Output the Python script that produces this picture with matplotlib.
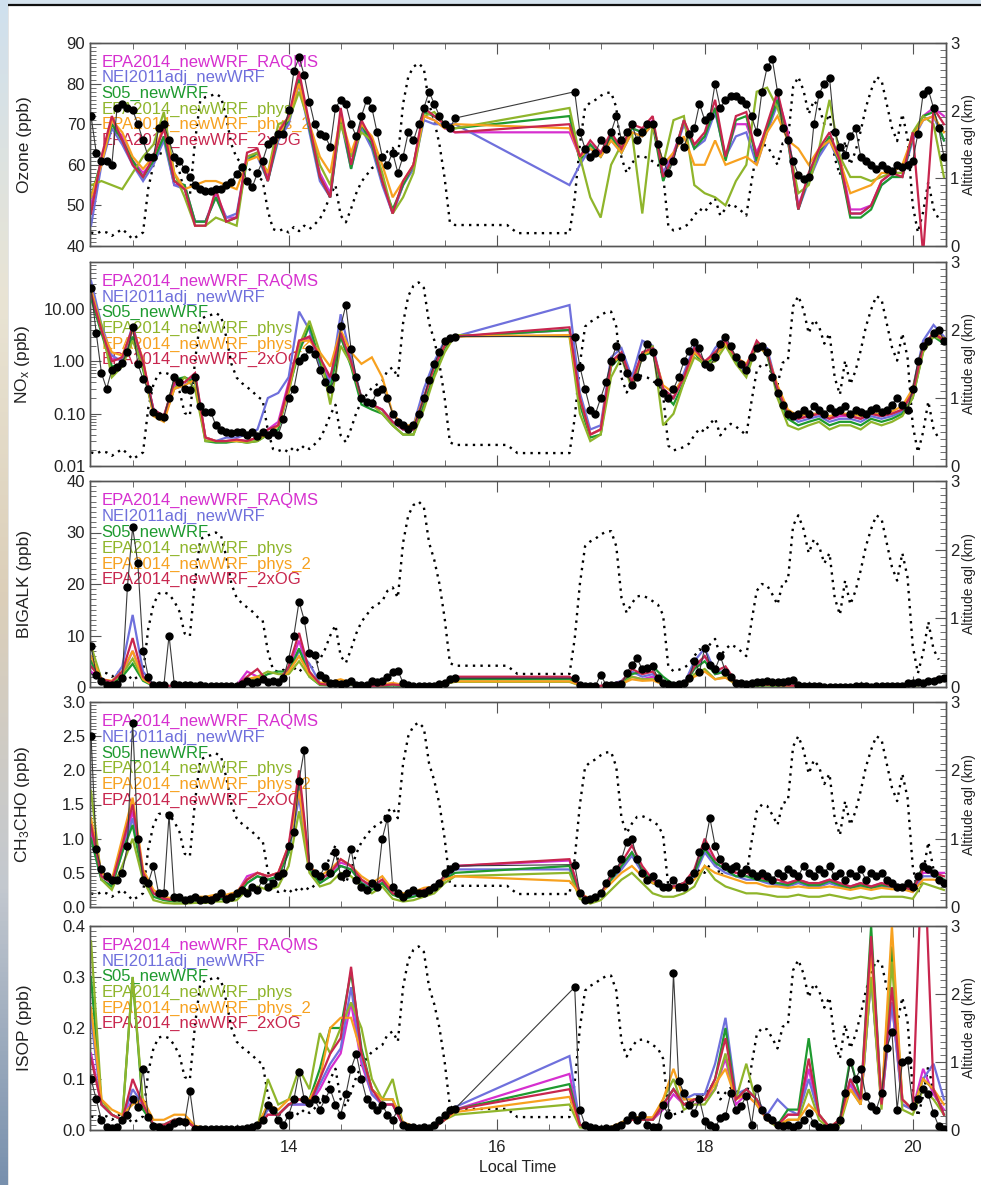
import numpy as np
import matplotlib
matplotlib.use("Agg")
import matplotlib.pyplot as plt
from matplotlib.ticker import MultipleLocator, FixedLocator, LogLocator, NullFormatter, FixedFormatter
from matplotlib.colors import LinearSegmentedColormap
from matplotlib.patches import Rectangle

plt.rcParams['font.family'] = ['Liberation Sans', 'DejaVu Sans']
plt.rcParams['mathtext.fontset'] = 'custom'
plt.rcParams['mathtext.rm'] = 'Liberation Sans'
plt.rcParams['mathtext.it'] = 'Liberation Sans:italic'

# ---------------------------------------------------------------- time bases (local hours)
ALT_START, ALT_STEP = 12.10, 0.05
OBS_A_START, OBS_B_START, OBS_STEP = 12.10, 16.75, 0.05
MOD_A_START, MOD_B_START, MOD_STEP = 12.1, 16.7, 0.1

model_names = ["EPA2014_newWRF_RAQMS", "NEI2011adj_newWRF", "S05_newWRF",
               "EPA2014_newWRF_phys", "EPA2014_newWRF_phys_2", "EPA2014_newWRF_2xOG"]
model_colors = ["#d62fcf", "#6f70dc", "#1e9a2f", "#8fb52b", "#f7a11f", "#c8264e"]

# aircraft altitude above ground (km)
altitude_km = [
    0.20, 0.18, 0.22, 0.20, 0.15, 0.20, 0.25, 0.18, 0.10, 0.15, 0.20, 0.85, 1.20, 1.36, 1.38, 1.35,
    1.25, 1.10, 0.78, 0.74, 1.55, 2.15, 2.20, 2.22, 2.25, 2.20, 1.90, 1.50, 1.30, 1.22, 1.16, 1.10,
    1.02, 0.97, 0.52, 0.25, 0.22, 0.25, 0.20, 0.28, 0.22, 0.30, 0.25, 0.32, 0.40, 0.55, 0.75, 0.90,
    0.45, 0.35, 0.55, 0.78, 0.95, 1.05, 1.15, 1.20, 1.25, 1.40, 1.45, 1.30, 2.10, 2.50, 2.65, 2.70,
    2.62, 2.10, 1.85, 1.50, 1.00, 0.35, 0.31, 0.31, 0.31, 0.31, 0.31, 0.31, 0.31, 0.31, 0.31, 0.31,
    0.31, 0.25, 0.19, 0.19, 0.19, 0.19, 0.19, 0.19, 0.19, 0.19, 0.19, 0.19, 0.19, 0.70, 1.50, 2.05,
    2.12, 2.16, 2.22, 2.26, 2.27, 2.05, 1.30, 1.08, 1.22, 1.32, 1.33, 1.30, 1.25, 1.20, 1.05, 0.30,
    0.23, 0.25, 0.28, 0.33, 0.45, 0.55, 0.50, 0.62, 0.70, 0.45, 0.55, 0.62, 0.58, 0.52, 0.45, 0.95,
    1.40, 1.50, 1.48, 1.35, 1.20, 1.52, 1.55, 2.35, 2.50, 2.30, 1.95, 2.15, 2.05, 1.80, 1.95, 1.30,
    1.05, 1.55, 1.20, 1.40, 1.70, 2.05, 2.30, 2.50, 2.45, 2.10, 1.75, 1.55, 1.95, 1.60, 0.60, 0.20,
    0.50, 0.95, 0.55, 0.40]

# ---------------------------------------------------------------- Ozone (ppb)
o3_obs_a = [72, 63, 61, 61, 60, 74, 75, 74, 73.5, 70, 66, 62, 62, 69, 70, 66, 62, 61, 59, 57, 55,
            54, 53.6, 53.6, 54, 54, 55, 55.7, 57.8, 59.5, 56, 54.5, 58, 61, 65, 66, 67.7, 67.7, 73.5,
            83, 86.5, 82, 75.5, 70, 67.5, 67, 64.5, 74, 76, 75, 70, 67, 72, 76, 74, 68, 62, 60, 63,
            58, 62, 68, 66, 70, 74, 78, 75, 72, 70, 69, 71.5]
o3_obs_b = [78, 68, 64, 62, 63, 66, 64, 68, 72, 66, 68, 70, 66, 68, 70, 70, 65, 61, 58, 61, 66,
            64.5, 67.7, 69, 75, 71, 72, 80, 74, 76, 77, 77, 76, 75, 72, 68, 78, 84, 86, 78, 69, 66,
            61, 57.5, 56.5, 57, 70, 77.5, 80, 81.5, 68, 64.5, 62.5, 67, 69, 62, 61, 60, 59, 60, 59,
            58.5, 60, 59.5, 60, 61, 67.7, 77.5, 78.5, 74, 69, 62]
o3_mod_a = [
    [50, 61, 70, 67, 61, 58, 61, 67, 55, 55, 46, 46, 53, 47, 47, 62, 63, 57, 67, 71, 82, 69, 58, 53, 72, 60, 70, 65, 56, 48, 55, 60, 72, 71, 69, 68],
    [45, 60, 69, 65, 60, 56, 60, 66, 55, 54, 46, 46, 52, 47, 48, 62, 62, 56, 66, 70, 80, 68, 56, 52, 71, 59, 69, 64, 55, 48, 55, 59, 71, 70, 70, 70],
    [52, 61, 70, 66, 61, 57, 61, 67, 56, 55, 46, 46, 52, 46, 47, 61, 63, 56, 67, 71, 81, 69, 57, 52, 72, 59, 70, 65, 56, 49, 55, 60, 73, 72, 70, 69],
    [55, 56, 55, 54, 58, 62, 65, 73, 58, 52, 45, 45, 47, 46, 45, 62, 63, 58, 70, 71, 78, 70, 60, 55, 70, 62, 68, 66, 58, 48, 52, 58, 72, 73, 70, 69],
    [52, 60, 71, 68, 62, 59, 62, 70, 58, 54, 55, 56, 56, 55, 54, 61, 62, 58, 67, 72, 80, 70, 62, 58, 72, 63, 70, 67, 60, 52, 56, 60, 72, 71, 69, 70],
    [48, 62, 72, 66, 60, 57, 62, 69, 56, 54, 45, 45, 54, 46, 47, 63, 64, 56, 68, 72, 83, 70, 57, 52, 74, 60, 71, 66, 56, 48, 56, 60, 74, 72, 70, 68],
]
o3_mod_b = [
    [68, 62, 65, 63, 67, 64, 69, 68, 71, 58, 63, 70, 65, 67, 74, 62, 70, 70, 63, 69, 77, 68, 50, 57, 63, 66, 62, 49, 49, 50, 56, 58, 58, 67, 72, 74, 72],
    [55, 60, 64, 62, 66, 63, 68, 67, 70, 58, 62, 70, 64, 66, 73, 62, 67, 68, 60, 68, 75, 66, 49, 56, 62, 66, 60, 48, 48, 50, 55, 57, 57, 66, 71, 72, 66],
    [72, 61, 65, 62, 67, 63, 69, 68, 70, 56, 62, 71, 64, 67, 74, 61, 71, 72, 61, 69, 76, 66, 49, 57, 63, 67, 60, 47, 47, 49, 55, 57, 57, 67, 72, 73, 66],
    [74, 62, 52, 47, 60, 65, 68, 48, 70, 60, 71, 72, 55, 53, 52, 50, 56, 60, 78, 79, 74, 66, 53, 55, 64, 76, 62, 57, 57, 56, 57, 58, 58, 68, 72, 70, 57],
    [69, 62, 64, 62, 66, 63, 68, 67, 70, 60, 63, 67, 60, 60, 66, 60, 61, 62, 60, 68, 72, 66, 64, 60, 64, 66, 61, 53, 54, 55, 58, 58, 60, 67, 71, 72, 68],
    [70, 62, 66, 63, 68, 64, 70, 69, 72, 57, 62, 71, 65, 68, 76, 62, 72, 73, 62, 70, 78, 67, 49, 58, 64, 68, 61, 48, 48, 50, 56, 58, 57, 68, 38, 74, 70],
]

# ---------------------------------------------------------------- NOx (ppb)
nox_obs_a = [25, 3.5, 0.6, 0.3, 0.7, 0.8, 0.95, 1.5, 4.5, 0.9, 0.46, 0.3, 0.11, 0.09, 0.085, 0.2,
             0.5, 0.4, 0.3, 0.29, 0.5, 0.14, 0.11, 0.11, 0.06, 0.048, 0.045, 0.042, 0.045, 0.045,
             0.04, 0.045, 0.038, 0.045, 0.04, 0.045, 0.04, 0.08, 0.2, 0.3, 1.0, 1.2, 1.7, 1.4, 0.7,
             0.4, 0.3, 0.5, 4.7, 12, 1.7, 0.5, 0.2, 0.17, 0.16, 0.26, 0.3, 0.2, 0.1, 0.07, 0.06,
             0.05, 0.06, 0.1, 0.2, 0.45, 0.9, 1.5, 2.5, 2.8, 3.0]
nox_obs_b = [3.0, 0.8, 0.3, 0.12, 0.1, 0.2, 0.4, 1.0, 2.0, 1.2, 0.6, 0.35, 0.5, 1.2, 2.2, 1.5, 0.4,
             0.25, 0.2, 0.3, 0.5, 1.0, 1.6, 2.4, 1.8, 0.9, 0.8, 1.2, 2.2, 3.0, 2.0, 1.2, 0.9, 0.7,
             1.2, 1.8, 2.0, 1.5, 0.5, 0.25, 0.15, 0.1, 0.09, 0.1, 0.12, 0.1, 0.14, 0.12, 0.1, 0.13,
             0.11, 0.12, 0.14, 0.1, 0.12, 0.11, 0.1, 0.12, 0.13, 0.11, 0.12, 0.15, 0.2, 0.15, 0.12,
             0.3, 1.0, 2.0, 2.5, 3.5, 4.0, 2.5]
nox_mod_a = [
    [18, 4, 1.1, 1.1, 4.0, 0.9, 0.12, 0.09, 0.35, 0.4, 0.55, 0.035, 0.03, 0.03, 0.032, 0.03, 0.035, 0.05, 0.07, 0.4, 2.0, 3.0, 1.0, 0.45, 3.0, 0.9, 0.2, 0.15, 0.12, 0.07, 0.05, 0.05, 0.2, 0.9, 2.0, 3.0],
    [35, 5, 1.3, 1.0, 5.0, 0.9, 0.12, 0.08, 0.3, 0.35, 0.5, 0.035, 0.03, 0.035, 0.035, 0.04, 0.05, 0.2, 0.25, 0.5, 9.0, 4.0, 0.8, 0.4, 8.0, 1.2, 0.2, 0.14, 0.12, 0.07, 0.05, 0.06, 0.3, 1.0, 2.5, 3.0],
    [16, 3.5, 0.8, 0.9, 3.0, 0.7, 0.1, 0.08, 0.45, 0.5, 0.4, 0.03, 0.028, 0.028, 0.03, 0.028, 0.03, 0.04, 0.05, 0.3, 1.5, 5.0, 1.0, 0.3, 3.0, 0.8, 0.15, 0.12, 0.1, 0.06, 0.04, 0.04, 0.15, 0.6, 1.8, 3.0],
    [22, 5, 0.5, 0.8, 2.5, 0.8, 0.1, 0.08, 0.3, 0.5, 0.3, 0.03, 0.03, 0.03, 0.03, 0.028, 0.03, 0.04, 0.06, 0.25, 2.0, 6.0, 1.5, 0.15, 2.0, 0.9, 0.2, 0.15, 0.1, 0.06, 0.04, 0.04, 0.12, 0.5, 1.5, 3.2],
    [25, 4, 1.5, 1.3, 4.0, 1.1, 0.09, 0.07, 0.3, 0.35, 0.45, 0.035, 0.03, 0.03, 0.03, 0.03, 0.035, 0.04, 0.06, 0.3, 2.5, 2.5, 1.5, 0.8, 4.0, 1.5, 0.9, 1.2, 0.5, 0.1, 0.06, 0.06, 0.2, 0.8, 2.0, 3.0],
    [20, 4, 1.0, 1.2, 4.5, 1.0, 0.12, 0.09, 0.4, 0.4, 0.6, 0.035, 0.03, 0.03, 0.032, 0.03, 0.035, 0.05, 0.06, 0.35, 2.5, 3.0, 1.2, 0.5, 3.5, 1.0, 0.2, 0.15, 0.12, 0.07, 0.05, 0.05, 0.2, 0.8, 2.0, 3.0],
]
nox_mod_b = [
    [4.0, 0.2, 0.04, 0.05, 0.9, 1.4, 0.4, 1.4, 1.7, 0.3, 0.2, 0.5, 1.7, 1.0, 1.4, 2.4, 1.1, 0.8, 2.3, 1.4, 0.3, 0.1, 0.08, 0.09, 0.1, 0.08, 0.09, 0.09, 0.08, 0.1, 0.09, 0.1, 0.12, 0.25, 1.8, 3.2, 2.4],
    [12, 0.25, 0.05, 0.06, 1.2, 1.8, 0.5, 2.5, 2.0, 0.3, 0.2, 0.6, 2.0, 0.8, 1.8, 3.0, 1.0, 0.6, 2.0, 1.8, 0.3, 0.1, 0.07, 0.08, 0.09, 0.07, 0.08, 0.08, 0.07, 0.09, 0.08, 0.09, 0.11, 0.3, 2.5, 5.0, 3.0],
    [4.0, 0.15, 0.035, 0.04, 0.8, 1.3, 0.35, 1.3, 1.5, 0.25, 0.15, 0.4, 1.5, 0.8, 1.3, 2.2, 1.0, 0.7, 2.2, 1.3, 0.25, 0.08, 0.06, 0.07, 0.08, 0.06, 0.07, 0.07, 0.06, 0.08, 0.07, 0.08, 0.1, 0.2, 1.6, 3.0, 2.2],
    [3.0, 0.1, 0.03, 0.04, 0.5, 1.2, 0.3, 1.2, 2.0, 0.06, 0.1, 0.4, 1.2, 0.9, 1.0, 2.0, 0.9, 0.5, 2.0, 1.5, 0.2, 0.06, 0.05, 0.06, 0.07, 0.05, 0.06, 0.06, 0.05, 0.07, 0.06, 0.07, 0.09, 0.2, 1.5, 3.0, 2.6],
    [3.2, 0.2, 0.04, 0.05, 0.9, 1.3, 0.4, 1.4, 1.6, 0.35, 0.25, 0.5, 1.5, 1.0, 1.3, 2.2, 1.2, 0.9, 2.0, 1.4, 0.35, 0.12, 0.09, 0.1, 0.1, 0.09, 0.1, 0.1, 0.09, 0.1, 0.1, 0.11, 0.14, 0.3, 2.0, 3.5, 2.8],
    [4.5, 0.2, 0.04, 0.05, 1.0, 1.5, 0.4, 1.5, 1.8, 0.3, 0.2, 0.5, 1.8, 1.0, 1.5, 2.5, 1.2, 0.8, 2.5, 1.5, 0.3, 0.1, 0.08, 0.09, 0.1, 0.08, 0.1, 0.09, 0.08, 0.1, 0.09, 0.1, 0.12, 0.25, 2.0, 3.5, 2.5],
]

# ---------------------------------------------------------------- BIGALK (ppb)
bigalk_obs_a = [8, 2.4, 1.1, 0.3, 0.3, 0.5, 1.7, 19.5, 31, 24, 7, 2, 0.3, 0.3, 0.3, 10, 0.6, 0.4,
                0.4, 0.3, 0.2, 0.3, 0.2, 0.2, 0.2, 0.1, 0.2, 0.2, 0.2, 0.5, 1.2, 0.8, 1.0, 1.5, 1.0,
                1.2, 1.0, 1.7, 5.5, 10, 16.6, 13, 6.6, 6.2, 2.4, 1.7, 0.8, 0.8, 0.6, 0.8, 1.1, 0.4,
                0.3, 0.4, 1.1, 1.0, 1.1, 2.0, 3.0, 3.2, 0.8, 0.3, 0.1, 0.1, 0.1, 0.1, 0.2, 0.5, 0.8,
                1.5, 1.7]
bigalk_obs_b = [1.7, 0.45, 0.1, 0.1, 0.2, 2.4, 0.45, 0.3, 0.4, 0.5, 2.7, 4.3, 5.6, 3.4, 3.7, 4.0,
                1.7, 0.8, 0.5, 0.3, 0.5, 0.8, 1.7, 5.0, 3.0, 7.6, 4.3, 3.4, 6.0, 3.0, 2.0, 0.8, 0.8,
                0.6, 0.8, 1.0, 1.0, 1.2, 1.0, 0.9, 1.0, 1.2, 1.4, 0.3, 0.1, 0.1, 0.1, 0.1, 0.0, 0.0,
                0.0, 0.0, 0.0, 0.0, 0.1, 0.1, 0.1, 0.0, 0.1, 0.1, 0.1, 0.1, 0.1, 0.1, 0.8, 0.8, 0.9,
                0.8, 1.1, 1.1, 1.5, 1.7]
bigalk_mod_a = [
    [3, 1.2, 0.8, 2.5, 7.0, 1.8, 0.3, 0.2, 0.2, 0.2, 0.2, 0.2, 0.2, 0.2, 0.3, 3.0, 2.0, 0.8, 0.7, 3.5, 9.0, 2.5, 0.5, 0.4, 0.5, 0.5, 0.3, 0.2, 0.3, 0.4, 0.3, 0.2, 0.2, 0.3, 0.9, 1.8],
    [5, 1.5, 1.0, 4.0, 14.0, 3.0, 0.4, 0.2, 0.2, 0.2, 0.2, 0.2, 0.2, 0.2, 0.3, 1.5, 1.5, 0.7, 0.7, 3.0, 7.0, 4.5, 0.8, 0.4, 0.4, 0.5, 0.3, 0.2, 0.3, 0.4, 0.3, 0.2, 0.2, 0.3, 0.9, 1.7],
    [5, 1.0, 0.7, 2.0, 4.5, 1.2, 0.2, 0.1, 0.1, 0.1, 0.1, 0.1, 0.1, 0.1, 0.2, 1.2, 1.5, 2.5, 3.0, 3.0, 7.5, 2.0, 0.4, 0.3, 0.4, 0.5, 0.2, 0.2, 0.2, 0.3, 0.2, 0.1, 0.1, 0.2, 0.8, 1.5],
    [8, 1.5, 1.0, 2.5, 5.5, 1.5, 0.3, 0.2, 0.2, 0.2, 0.2, 0.1, 0.1, 0.1, 0.2, 1.0, 2.0, 3.0, 2.5, 2.5, 5.0, 2.0, 0.5, 0.5, 0.7, 0.5, 0.4, 0.3, 0.3, 0.5, 0.3, 0.2, 0.2, 0.3, 0.6, 1.0],
    [6, 1.5, 1.2, 3.0, 7.0, 1.5, 0.3, 0.2, 0.2, 0.3, 0.3, 0.2, 0.2, 0.2, 0.3, 1.5, 2.0, 1.0, 1.0, 3.0, 6.0, 2.5, 0.8, 1.0, 1.5, 0.8, 0.5, 0.4, 0.5, 0.8, 0.4, 0.3, 0.3, 0.4, 0.7, 1.1],
    [4, 1.5, 1.0, 3.0, 9.5, 2.0, 0.3, 0.2, 0.2, 0.2, 0.2, 0.2, 0.2, 0.2, 0.3, 2.0, 3.5, 1.0, 0.8, 4.0, 10.5, 3.0, 0.6, 0.4, 0.5, 0.6, 0.3, 0.2, 0.3, 0.5, 0.3, 0.2, 0.2, 0.3, 1.0, 2.0],
]
bigalk_mod_b = [
    [1.8, 0.5, 0.1, 0.2, 0.4, 0.8, 2.0, 1.5, 2.0, 0.5, 0.4, 0.4, 3.5, 6.0, 2.5, 3.0, 0.8, 0.4, 0.3, 0.4, 0.3, 0.2, 0.2, 0.1, 0.1, 0.1, 0.1, 0.1, 0.1, 0.1, 0.1, 0.1, 0.2, 0.3, 0.7, 1.2, 1.6],
    [1.7, 0.5, 0.1, 0.2, 0.5, 1.2, 3.0, 2.0, 2.5, 0.5, 0.4, 0.5, 5.0, 7.5, 3.0, 3.0, 0.8, 0.4, 0.3, 0.4, 0.3, 0.2, 0.2, 0.1, 0.1, 0.1, 0.1, 0.1, 0.1, 0.1, 0.1, 0.1, 0.2, 0.3, 0.8, 1.5, 1.8],
    [1.5, 0.4, 0.1, 0.1, 0.4, 0.8, 2.5, 3.0, 4.0, 2.0, 0.5, 0.3, 3.5, 5.0, 2.5, 3.0, 0.6, 0.3, 0.2, 0.3, 0.2, 0.2, 0.1, 0.1, 0.1, 0.1, 0.1, 0.1, 0.1, 0.1, 0.1, 0.1, 0.2, 0.3, 0.8, 1.5, 2.0],
    [1.0, 0.3, 0.1, 0.1, 0.3, 0.6, 2.0, 1.5, 1.5, 0.6, 0.4, 0.3, 2.5, 3.5, 1.5, 2.0, 0.4, 0.3, 0.3, 0.3, 0.3, 0.2, 0.1, 0.1, 0.1, 0.1, 0.1, 0.1, 0.1, 0.1, 0.1, 0.1, 0.1, 0.2, 0.5, 1.0, 1.2],
    [1.1, 0.4, 0.2, 0.2, 0.4, 0.6, 1.5, 1.2, 1.3, 0.5, 0.5, 0.4, 2.0, 3.0, 1.5, 1.8, 0.6, 0.5, 0.4, 0.5, 0.4, 0.3, 0.2, 0.2, 0.2, 0.2, 0.2, 0.2, 0.2, 0.2, 0.2, 0.2, 0.3, 0.4, 0.6, 1.0, 1.2],
    [2.0, 0.5, 0.1, 0.2, 0.5, 1.0, 3.5, 2.5, 3.0, 0.6, 0.4, 0.4, 4.0, 6.0, 3.0, 4.0, 1.0, 0.5, 0.4, 0.5, 0.4, 0.3, 0.2, 0.1, 0.1, 0.1, 0.1, 0.1, 0.1, 0.1, 0.1, 0.1, 0.2, 0.4, 0.8, 1.5, 2.0],
]

# ---------------------------------------------------------------- CH3CHO (ppb)
ch3cho_obs_a = [2.5, 0.85, 0.55, 0.45, 0.4, 0.4, 0.5, 0.9, 2.7, 1.0, 0.4, 0.35, 0.6, 0.2, 0.2, 1.35,
                0.15, 0.15, 0.1, 0.12, 0.15, 0.1, 0.12, 0.1, 0.15, 0.2, 0.12, 0.15, 0.2, 0.25, 0.2,
                0.3, 0.25, 0.4, 0.3, 0.35, 0.45, 0.5, 0.9, 1.1, 1.85, 2.3, 0.6, 0.5, 0.45, 0.6, 0.5,
                0.8, 0.45, 0.5, 0.85, 0.4, 0.3, 0.25, 0.35, 0.3, 1.0, 1.3, 0.3, 0.2, 0.15, 0.2, 0.25,
                0.2, 0.2, 0.25, 0.3, 0.35, 0.5, 0.55, 0.6]
ch3cho_obs_b = [0.62, 0.2, 0.1, 0.12, 0.15, 0.2, 0.35, 0.5, 0.55, 0.7, 0.95, 1.0, 0.7, 0.5, 0.4,
                0.45, 0.35, 0.3, 0.3, 0.4, 0.3, 0.3, 0.4, 0.5, 0.8, 0.9, 1.3, 0.9, 0.7, 0.6, 0.55,
                0.6, 0.5, 0.55, 0.5, 0.45, 0.5, 0.45, 0.4, 0.5, 0.45, 0.55, 0.5, 0.45, 0.6, 0.5, 0.45,
                0.55, 0.5, 0.6, 0.45, 0.5, 0.4, 0.5, 0.45, 0.55, 0.4, 0.5, 0.45, 0.5, 0.4, 0.35, 0.3,
                0.3, 0.35, 0.3, 0.45, 0.6, 0.55, 0.5, 0.4, 0.35]
ch3cho_mod_a = [
    [1.1, 0.45, 0.35, 0.85, 1.4, 0.5, 0.2, 0.12, 0.1, 0.1, 0.12, 0.12, 0.15, 0.15, 0.2, 0.45, 0.5, 0.45, 0.5, 0.85, 1.8, 0.6, 0.4, 0.5, 0.65, 0.6, 0.4, 0.3, 0.4, 0.2, 0.15, 0.2, 0.25, 0.3, 0.45, 0.6],
    [1.0, 0.4, 0.3, 0.8, 1.3, 0.45, 0.2, 0.12, 0.1, 0.1, 0.12, 0.12, 0.14, 0.14, 0.18, 0.35, 0.45, 0.4, 0.45, 0.8, 1.6, 0.55, 0.35, 0.45, 0.6, 0.55, 0.35, 0.3, 0.35, 0.2, 0.15, 0.18, 0.22, 0.28, 0.4, 0.55],
    [1.0, 0.4, 0.3, 0.8, 1.2, 0.45, 0.15, 0.1, 0.08, 0.08, 0.1, 0.1, 0.12, 0.12, 0.15, 0.35, 0.45, 0.4, 0.45, 0.8, 1.9, 0.55, 0.35, 0.45, 0.6, 0.55, 0.35, 0.25, 0.35, 0.18, 0.12, 0.15, 0.2, 0.25, 0.4, 0.5],
    [1.7, 0.4, 0.25, 0.6, 1.0, 0.4, 0.1, 0.06, 0.05, 0.05, 0.06, 0.06, 0.08, 0.08, 0.1, 0.25, 0.3, 0.25, 0.3, 0.6, 1.4, 0.5, 0.3, 0.35, 0.5, 0.45, 0.3, 0.2, 0.3, 0.12, 0.08, 0.1, 0.15, 0.2, 0.35, 0.45],
    [1.3, 0.5, 0.4, 1.0, 1.6, 0.55, 0.25, 0.15, 0.12, 0.12, 0.15, 0.15, 0.18, 0.18, 0.22, 0.4, 0.5, 0.45, 0.5, 0.9, 1.7, 0.6, 0.45, 0.55, 0.7, 0.6, 0.45, 0.35, 0.45, 0.25, 0.2, 0.22, 0.28, 0.3, 0.4, 0.45],
    [1.2, 0.45, 0.35, 0.9, 1.5, 0.5, 0.2, 0.12, 0.1, 0.1, 0.12, 0.12, 0.15, 0.15, 0.2, 0.4, 0.5, 0.45, 0.5, 0.9, 2.0, 0.6, 0.4, 0.5, 0.7, 0.6, 0.4, 0.3, 0.4, 0.2, 0.15, 0.2, 0.25, 0.3, 0.45, 0.6],
]
ch3cho_mod_b = [
    [0.68, 0.2, 0.1, 0.2, 0.4, 0.6, 0.8, 0.55, 0.4, 0.3, 0.3, 0.35, 0.5, 0.9, 0.65, 0.55, 0.5, 0.45, 0.45, 0.4, 0.35, 0.35, 0.4, 0.35, 0.35, 0.4, 0.35, 0.3, 0.35, 0.3, 0.35, 0.3, 0.3, 0.25, 0.5, 0.5, 0.5],
    [0.55, 0.18, 0.1, 0.18, 0.4, 0.55, 0.75, 0.5, 0.35, 0.28, 0.28, 0.32, 0.45, 0.8, 0.6, 0.5, 0.45, 0.4, 0.4, 0.35, 0.32, 0.3, 0.35, 0.3, 0.3, 0.35, 0.3, 0.28, 0.3, 0.28, 0.3, 0.28, 0.28, 0.22, 0.45, 0.45, 0.4],
    [0.6, 0.18, 0.1, 0.2, 0.4, 0.6, 0.8, 0.55, 0.35, 0.3, 0.3, 0.35, 0.5, 0.85, 0.65, 0.55, 0.45, 0.45, 0.4, 0.38, 0.35, 0.32, 0.38, 0.32, 0.32, 0.38, 0.32, 0.28, 0.32, 0.28, 0.32, 0.3, 0.3, 0.25, 0.6, 0.5, 0.4],
    [0.5, 0.12, 0.05, 0.1, 0.25, 0.4, 0.5, 0.35, 0.2, 0.15, 0.15, 0.2, 0.3, 0.6, 0.4, 0.3, 0.25, 0.2, 0.2, 0.18, 0.15, 0.15, 0.18, 0.15, 0.15, 0.18, 0.15, 0.12, 0.15, 0.12, 0.15, 0.15, 0.15, 0.12, 0.35, 0.3, 0.25],
    [0.38, 0.2, 0.12, 0.2, 0.35, 0.5, 0.6, 0.45, 0.35, 0.3, 0.28, 0.3, 0.4, 0.6, 0.5, 0.45, 0.4, 0.35, 0.35, 0.3, 0.3, 0.28, 0.3, 0.28, 0.28, 0.3, 0.28, 0.25, 0.28, 0.25, 0.28, 0.26, 0.26, 0.22, 0.4, 0.4, 0.38],
    [0.7, 0.2, 0.1, 0.2, 0.45, 0.65, 0.9, 0.6, 0.4, 0.3, 0.3, 0.35, 0.55, 1.0, 0.7, 0.6, 0.5, 0.5, 0.45, 0.4, 0.4, 0.35, 0.4, 0.35, 0.35, 0.4, 0.35, 0.3, 0.35, 0.3, 0.35, 0.3, 0.3, 0.25, 0.55, 0.5, 0.45],
]

# ---------------------------------------------------------------- ISOP (ppb)
isop_obs_a = [0.1, 0.06, 0.02, 0.005, 0.003, 0.005, 0.02, 0.03, 0.06, 0.045, 0.12, 0.025, 0.007,
              0.005, 0.002, 0.005, 0.013, 0.017, 0.015, 0.077, 0.002, 0.001, 0.001, 0.001, 0.002,
              0.001, 0.001, 0.002, 0.001, 0.002, 0.003, 0.005, 0.01, 0.02, 0.05, 0.04, 0.02, 0.01,
              0.03, 0.06, 0.113, 0.06, 0.053, 0.06, 0.04, 0.06, 0.08, 0.05, 0.03, 0.07, 0.12, 0.15,
              0.1, 0.06, 0.05, 0.04, 0.05, 0.03, 0.02, 0.04, 0.01, 0.005, 0.005, 0.003, 0.005,
              0.003, 0.01, 0.02, 0.03, 0.04, 0.042]
isop_obs_b = [0.28, 0.04, 0.01, 0.005, 0.003, 0.002, 0.003, 0.002, 0.005, 0.01, 0.02, 0.03, 0.02,
              0.03, 0.01, 0.005, 0.005, 0.05, 0.03, 0.307, 0.097, 0.073, 0.05, 0.033, 0.06, 0.017,
              0.01, 0.005, 0.023, 0.027, 0.073, 0.04, 0.047, 0.067, 0.01, 0.083, 0.04, 0.025, 0.02,
              0.01, 0.007, 0.01, 0.005, 0.01, 0.02, 0.033, 0.013, 0.005, 0.004, 0.005, 0.005, 0.02,
              0.073, 0.133, 0.1, 0.12, 0.067, 0.047, 0.04, 0.073, 0.16, 0.193, 0.04, 0.133, 0.137,
              0.047, 0.06, 0.08, 0.07, 0.033, 0.007, 0.002]
isop_mod_a = [
    [0.15, 0.05, 0.03, 0.02, 0.06, 0.05, 0.01, 0.01, 0.02, 0.02, 0.005, 0.003, 0.002, 0.002, 0.002, 0.003, 0.005, 0.03, 0.03, 0.05, 0.05, 0.05, 0.08, 0.12, 0.15, 0.25, 0.13, 0.07, 0.05, 0.05, 0.01, 0.005, 0.003, 0.005, 0.02, 0.04],
    [0.22, 0.05, 0.03, 0.02, 0.08, 0.05, 0.01, 0.01, 0.02, 0.02, 0.005, 0.003, 0.002, 0.002, 0.002, 0.003, 0.005, 0.04, 0.03, 0.05, 0.05, 0.05, 0.09, 0.13, 0.16, 0.28, 0.14, 0.07, 0.05, 0.05, 0.01, 0.005, 0.003, 0.005, 0.03, 0.045],
    [0.3, 0.05, 0.03, 0.02, 0.3, 0.04, 0.01, 0.01, 0.02, 0.02, 0.005, 0.003, 0.002, 0.002, 0.002, 0.003, 0.005, 0.05, 0.03, 0.05, 0.06, 0.06, 0.12, 0.2, 0.2, 0.31, 0.16, 0.08, 0.06, 0.06, 0.01, 0.005, 0.003, 0.005, 0.02, 0.04],
    [0.37, 0.06, 0.03, 0.02, 0.3, 0.05, 0.01, 0.01, 0.02, 0.02, 0.005, 0.003, 0.002, 0.002, 0.002, 0.003, 0.005, 0.1, 0.05, 0.06, 0.12, 0.08, 0.19, 0.15, 0.2, 0.25, 0.2, 0.1, 0.06, 0.1, 0.01, 0.005, 0.003, 0.005, 0.02, 0.03],
    [0.24, 0.06, 0.04, 0.03, 0.05, 0.06, 0.02, 0.02, 0.03, 0.03, 0.008, 0.004, 0.003, 0.003, 0.003, 0.004, 0.008, 0.05, 0.04, 0.06, 0.06, 0.06, 0.1, 0.2, 0.22, 0.22, 0.15, 0.08, 0.06, 0.06, 0.015, 0.008, 0.005, 0.008, 0.02, 0.035],
    [0.14, 0.05, 0.03, 0.02, 0.1, 0.05, 0.01, 0.01, 0.02, 0.02, 0.005, 0.003, 0.002, 0.002, 0.002, 0.003, 0.005, 0.03, 0.03, 0.05, 0.06, 0.05, 0.1, 0.15, 0.18, 0.32, 0.15, 0.08, 0.05, 0.05, 0.01, 0.005, 0.003, 0.005, 0.02, 0.04],
]
isop_mod_b = [
    [0.11, 0.01, 0.005, 0.003, 0.005, 0.01, 0.02, 0.02, 0.02, 0.04, 0.07, 0.05, 0.05, 0.06, 0.08, 0.14, 0.05, 0.07, 0.05, 0.02, 0.01, 0.03, 0.03, 0.12, 0.03, 0.005, 0.02, 0.09, 0.05, 0.3, 0.05, 0.25, 0.05, 0.04, 0.12, 0.07, 0.04],
    [0.145, 0.01, 0.005, 0.003, 0.005, 0.01, 0.02, 0.02, 0.02, 0.05, 0.08, 0.06, 0.07, 0.07, 0.13, 0.22, 0.07, 0.08, 0.06, 0.03, 0.06, 0.04, 0.03, 0.1, 0.03, 0.005, 0.02, 0.1, 0.05, 0.3, 0.05, 0.25, 0.05, 0.04, 0.1, 0.13, 0.06],
    [0.09, 0.01, 0.005, 0.003, 0.005, 0.01, 0.02, 0.02, 0.02, 0.05, 0.08, 0.05, 0.06, 0.06, 0.1, 0.2, 0.06, 0.08, 0.06, 0.02, 0.01, 0.04, 0.04, 0.18, 0.03, 0.005, 0.02, 0.14, 0.06, 0.4, 0.05, 0.36, 0.06, 0.04, 0.1, 0.08, 0.03],
    [0.05, 0.005, 0.003, 0.002, 0.003, 0.01, 0.02, 0.02, 0.02, 0.06, 0.1, 0.04, 0.05, 0.05, 0.08, 0.15, 0.06, 0.13, 0.05, 0.02, 0.005, 0.02, 0.02, 0.08, 0.02, 0.003, 0.01, 0.08, 0.05, 0.3, 0.04, 0.33, 0.04, 0.03, 0.08, 0.06, 0.03],
    [0.065, 0.01, 0.005, 0.004, 0.006, 0.015, 0.025, 0.025, 0.025, 0.06, 0.12, 0.06, 0.06, 0.06, 0.09, 0.12, 0.06, 0.07, 0.05, 0.02, 0.01, 0.02, 0.02, 0.05, 0.03, 0.005, 0.02, 0.08, 0.05, 0.35, 0.05, 0.4, 0.06, 0.04, 0.1, 0.08, 0.05],
    [0.08, 0.01, 0.005, 0.003, 0.005, 0.01, 0.02, 0.02, 0.02, 0.05, 0.08, 0.05, 0.06, 0.06, 0.1, 0.18, 0.06, 0.08, 0.06, 0.02, 0.01, 0.03, 0.03, 0.14, 0.03, 0.005, 0.02, 0.1, 0.06, 0.38, 0.05, 0.28, 0.06, 0.04, 0.6, 0.08, 0.03],
]


def joined(a, b, start_a, start_b, step):
    ta = start_a + step * np.arange(len(a))
    tb = start_b + step * np.arange(len(b))
    return np.concatenate([ta, tb]), np.concatenate([np.asarray(a, float), np.asarray(b, float)])


panels = [
    dict(label="Ozone (ppb)", obs=(o3_obs_a, o3_obs_b), mod=(o3_mod_a, o3_mod_b),
         ylim=(40, 90), log=False, major=10, minor=1, fmt="%d"),
    dict(label="NO$_\\mathrm{x}$ (ppb)", obs=(nox_obs_a, nox_obs_b), mod=(nox_mod_a, nox_mod_b),
         ylim=(0.01, 80), log=True),
    dict(label="BIGALK (ppb)", obs=(bigalk_obs_a, bigalk_obs_b), mod=(bigalk_mod_a, bigalk_mod_b),
         ylim=(0, 40), log=False, major=10, minor=1, fmt="%d"),
    dict(label="CH$_3$CHO (ppb)", obs=(ch3cho_obs_a, ch3cho_obs_b), mod=(ch3cho_mod_a, ch3cho_mod_b),
         ylim=(0, 3.0), log=False, major=0.5, minor=0.05, fmt="%.1f"),
    dict(label="ISOP (ppb)", obs=(isop_obs_a, isop_obs_b), mod=(isop_mod_a, isop_mod_b),
         ylim=(0, 0.4), log=False, major=0.1, minor=0.01, fmt="%.1f"),
]

W, H = 981, 1185
fig = plt.figure(figsize=(W / 100, H / 100), dpi=100, facecolor="#d6e4ef")

# page backdrop: shaded strip on the left and a white framed sheet
strip = fig.add_axes([0, 0, 8 / W, 1])
grad = LinearSegmentedColormap.from_list(
    "edge", ["#cfe0ee", "#e9e4d4", "#dccfb9", "#c3c8cf", "#7890ad"])
strip.imshow(np.linspace(0, 1, 256)[:, None], aspect="auto", cmap=grad)
strip.set_axis_off()
fig.patches.append(Rectangle((7 / W, -0.01), (W - 7) / W + 0.01, (H - 5) / H + 0.01,
                             transform=fig.transFigure, facecolor="white",
                             edgecolor="#111111", linewidth=1.6, zorder=-5))

panel_px = [(43, 246), (262, 466), (481, 687), (702, 907), (926, 1130)]
x_left, x_right = 90, 946
frame_col = "#555555"
text_col = "#222222"

t_alt = ALT_START + ALT_STEP * np.arange(len(altitude_km))

for i, (p, (top, bot)) in enumerate(zip(panels, panel_px)):
    ax = fig.add_axes([x_left / W, 1 - bot / H, (x_right - x_left) / W, (bot - top) / H])
    ax2 = ax.twinx()
    ax.set_zorder(ax2.get_zorder() + 1)
    ax.patch.set_visible(False)

    # flight altitude
    ax2.plot(t_alt, altitude_km, color="black", linestyle=(0, (1.0, 2.2)), linewidth=1.7)
    ax2.set_ylim(0, 3)
    ax2.set_yticks([0, 1, 2, 3])
    ax2.yaxis.set_minor_locator(MultipleLocator(0.1))
    ax2.tick_params(axis="y", which="both", direction="in", colors=frame_col,
                    labelcolor=text_col, labelsize=12, pad=3)
    ax2.tick_params(axis="y", which="major", length=8)
    ax2.tick_params(axis="y", which="minor", length=4)
    ax2.set_ylabel("Altitude agl (km)", fontsize=10, color=text_col, rotation=90)
    ax2.yaxis.set_label_coords(1.019, 0.5)

    if p["log"]:
        ax.set_yscale("log")

    # legend labels sit underneath the curves
    for k, (name, col) in enumerate(zip(model_names, model_colors)):
        ax.text(0.013, 0.905 - k * 0.077, name, color=col, fontsize=12,
                transform=ax.transAxes, va="center", ha="left", zorder=1)

    # model runs
    mod_a, mod_b = p["mod"]
    for k, col in enumerate(model_colors):
        tt, vv = joined(mod_a[k], mod_b[k], MOD_A_START, MOD_B_START, MOD_STEP)
        ax.plot(tt, vv, color=col, linewidth=1.6, zorder=2 + 0.1 * k, solid_joinstyle="miter")

    # observations
    obs_a, obs_b = p["obs"]
    tt, vv = joined(obs_a, obs_b, OBS_A_START, OBS_B_START, OBS_STEP)
    ax.plot(tt, vv, color="#3a3a3a", linewidth=0.8, zorder=3)
    ax.plot(tt, vv, linestyle="none", marker="o", markersize=5, color="black", zorder=4)

    ax.set_xlim(12.09, 20.32)
    ax.set_ylim(*p["ylim"])
    if p["log"]:
        ax.yaxis.set_major_locator(FixedLocator([0.01, 0.1, 1, 10]))
        ax.yaxis.set_major_formatter(FixedFormatter(["0.01", "0.10", "1.00", "10.00"]))
        ax.yaxis.set_minor_locator(LogLocator(base=10, subs=np.arange(2, 10)))
        ax.yaxis.set_minor_formatter(NullFormatter())
    else:
        ax.yaxis.set_major_locator(MultipleLocator(p["major"]))
        ax.yaxis.set_minor_locator(MultipleLocator(p["minor"]))
        ax.yaxis.set_major_formatter(matplotlib.ticker.FormatStrFormatter(p["fmt"]))

    ax.set_xticks([14, 16, 18, 20])
    ax.xaxis.set_minor_locator(MultipleLocator(0.5))
    ax.tick_params(axis="both", which="both", direction="in", top=True, right=False,
                   colors=frame_col, labelcolor=text_col, labelsize=12)
    ax.tick_params(axis="both", which="major", length=8)
    ax.tick_params(axis="both", which="minor", length=4)
    ax.tick_params(axis="x", which="both", pad=7)
    if i < len(panels) - 1:
        ax.tick_params(axis="x", labelbottom=False)
    else:
        ax.set_xlabel("Local Time", fontsize=11.5, color=text_col, labelpad=4)

    for s in list(ax.spines.values()) + list(ax2.spines.values()):
        s.set_color(frame_col)
        s.set_linewidth(1.0)

    ax.set_ylabel(p["label"], fontsize=12.5, color=text_col)
    ax.yaxis.set_label_coords(-0.068, 0.5)

fig.savefig("out.png", dpi=100, facecolor=fig.get_facecolor())
